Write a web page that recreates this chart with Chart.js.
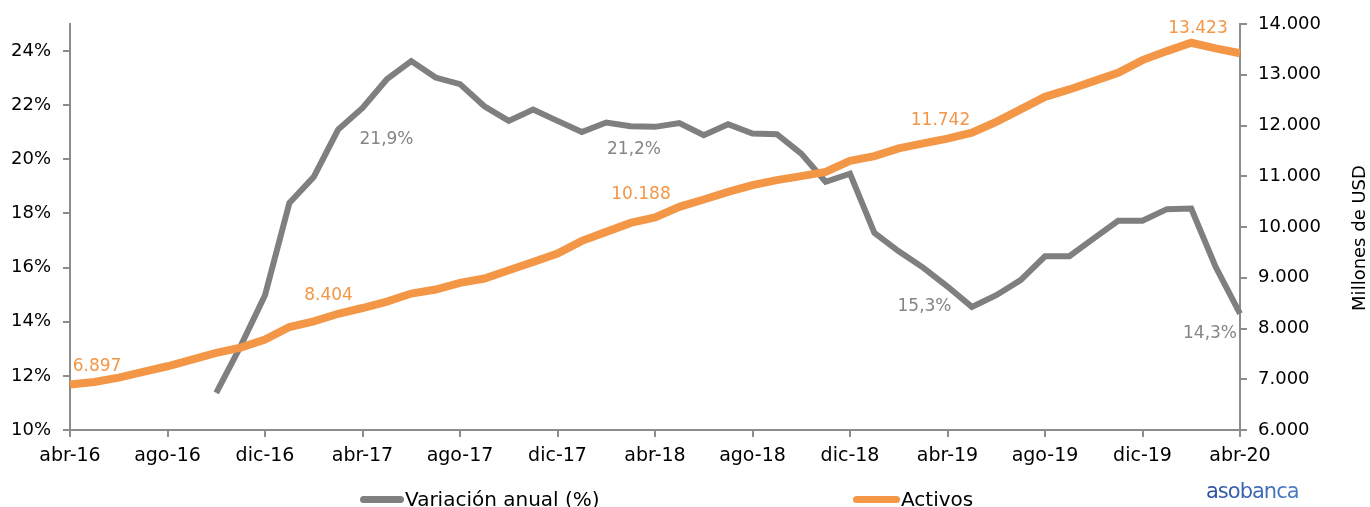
<!DOCTYPE html>
<html><head><meta charset="utf-8">
<script src="https://cdn.jsdelivr.net/npm/chart.js@4.4.1/dist/chart.umd.min.js"></script>
<style>
html,body{margin:0;padding:0;background:#fff;overflow:hidden}
#wrap{position:relative;width:1370px;height:507px;background:#fff}
canvas{position:absolute;left:0;top:0}
.leg{position:absolute;font-family:'DejaVu Sans';font-size:20px;color:#000;white-space:nowrap;line-height:20px}
.sw{position:absolute;height:7px;border-radius:4px}
.logo{position:absolute;left:1206px;top:479px;font-family:'DejaVu Sans';font-size:21px;letter-spacing:-1px;font-weight:normal;color:#3a5dab;background:linear-gradient(90deg,#2e4f9f,#4a7cc6);-webkit-background-clip:text;background-clip:text;-webkit-text-fill-color:transparent;line-height:24px}
</style></head><body>
<div id="wrap">
<canvas id="c" width="1370" height="507"></canvas>
<div class="sw" style="left:360px;top:496px;width:44px;background:#7f7f7f"></div>
<div class="leg" style="left:405px;top:489px">Variación anual (%)</div>
<div class="sw" style="left:853px;top:496px;width:47px;background:#f39646"></div>
<div class="leg" style="left:901px;top:489px">Activos</div>
<div class="logo">asobanca</div>
</div>
<script>
const months = ['abr-16','may-16','jun-16','jul-16','ago-16','sep-16','oct-16','nov-16','dic-16',
 'ene-17','feb-17','mar-17','abr-17','may-17','jun-17','jul-17','ago-17','sep-17','oct-17','nov-17','dic-17',
 'ene-18','feb-18','mar-18','abr-18','may-18','jun-18','jul-18','ago-18','sep-18','oct-18','nov-18','dic-18',
 'ene-19','feb-19','mar-19','abr-19','may-19','jun-19','jul-19','ago-19','sep-19','oct-19','nov-19','dic-19',
 'ene-20','feb-20','mar-20','abr-20'];

const variacionAnual = [null,null,null,null,null,null,11.37,13.1,14.98,
 18.39,19.35,21.10,21.9,22.96,23.63,23.02,22.78,21.96,21.42,21.84,21.42,
 21.01,21.36,21.22,21.2,21.34,20.89,21.3,20.95,20.93,20.21,19.17,19.47,
 17.28,16.6,16.0,15.3,14.55,14.98,15.54,16.42,16.42,17.08,17.73,17.73,
 18.16,18.18,16.03,14.3];

const activos = [6897,6946,7033,7144,7256,7388,7518,7625,7782,
 8030,8140,8290,8404,8530,8689,8768,8900,8985,9149,9312,9478,
 9727,9904,10081,10188,10397,10542,10692,10825,10923,11002,11087,11304,
 11396,11550,11647,11742,11860,12073,12317,12565,12711,12875,13039,13289,
 13466,13630,13520,13423];

const leftTicks = [10,12,14,16,18,20,22,24];
const rightTicks = [6000,7000,8000,9000,10000,11000,12000,13000,14000];

const activosLabelIdx = [0,12,24,36,48];
const variacionLabelIdx = [12,24,36,48];

const GRAY = '#7f7f7f', ORANGE = '#f39646', AXIS = '#8c8c8c';
const fmtThousands = v => String(Math.round(v)).replace(/\B(?=(\d{3})+(?!\d))/g,'.');
const fmtPct = v => v.toFixed(1).replace('.', ',') + '%';

// label offsets (style only)
const activosOffsets = [[27,-18],[-34,-12],[-14,-23],[-7,-18],[-42,-25]];
const variacionOffsets = [[24,32],[-21,23],[-23,20],[-30,20]];

Chart.defaults.font.family = 'DejaVu Sans';
Chart.defaults.font.size = 18;
Chart.defaults.color = '#000';

const labelPlugin = {
  id: 'valueLabels',
  afterDatasetsDraw(chart) {
    const ctx = chart.ctx;
    ctx.save();
    ctx.font = '17px "DejaVu Sans"';
    ctx.textAlign = 'center';
    ctx.textBaseline = 'middle';
    const mA = chart.getDatasetMeta(1), mV = chart.getDatasetMeta(0);
    activosLabelIdx.forEach((i, k) => {
      const p = mA.data[i];
      ctx.fillStyle = ORANGE;
      ctx.fillText(fmtThousands(activos[i]), p.x + activosOffsets[k][0], p.y + activosOffsets[k][1]);
    });
    variacionLabelIdx.forEach((i, k) => {
      const p = mV.data[i];
      ctx.fillStyle = '#858585';
      ctx.fillText(fmtPct(variacionAnual[i]), p.x + variacionOffsets[k][0], p.y + variacionOffsets[k][1]);
    });
    // right axis title
    ctx.fillStyle = '#000';
    ctx.font = '18px "DejaVu Sans"';
    ctx.translate(1360, 238);
    ctx.rotate(-Math.PI/2);
    ctx.fillText('Millones de USD', 0, 0);
    ctx.restore();
  }
};

new Chart(document.getElementById('c'), {
  type: 'line',
  data: {
    labels: months,
    datasets: [
      { label: 'Variación anual (%)', data: variacionAnual, yAxisID: 'y', borderColor: GRAY,
        borderWidth: 6, pointRadius: 0, tension: 0, order: 1, spanGaps: false, borderJoinStyle: 'miter' },
      { label: 'Activos', data: activos, yAxisID: 'y1', borderColor: ORANGE,
        borderWidth: 8, pointRadius: 0, tension: 0, order: 0, borderJoinStyle: 'miter' }
    ]
  },
  options: {
    responsive: false,
    animation: false,
    layout: { padding: { top: 24, left: 0, right: 0, bottom: 0 } },
    plugins: { legend: { display: false }, tooltip: { enabled: false } },
    scales: {
      x: {
        offset: false,
        grid: { display: true, drawOnChartArea: false, drawTicks: true, tickLength: 7, color: AXIS, lineWidth: 2 },
        border: { display: true, color: AXIS, width: 2 },
        ticks: { autoSkip: false, maxRotation: 0, padding: 8, font: { size: 19 },
          callback: function(v, i) { return i % 4 === 0 ? this.getLabelForValue(v) : null; } },
        afterFit: s => { s.height = 77; }
      },
      y: {
        position: 'left', min: 10, max: 25,
        grid: { display: true, drawOnChartArea: false, drawTicks: true, tickLength: 7, color: AXIS, lineWidth: 2 },
        border: { display: true, color: AXIS, width: 2 },
        ticks: { padding: 12, callback: v => v + '%' },
        afterBuildTicks: s => { s.ticks = leftTicks.map(v => ({ value: v })); },
        afterFit: s => { s.width = 70; }
      },
      y1: {
        position: 'right', min: 6000, max: 14000,
        grid: { display: true, drawOnChartArea: false, drawTicks: true, tickLength: 7, color: AXIS, lineWidth: 2 },
        border: { display: true, color: AXIS, width: 2 },
        ticks: { padding: 11, callback: v => fmtThousands(v) },
        afterBuildTicks: s => { s.ticks = rightTicks.map(v => ({ value: v })); },
        afterFit: s => { s.width = 130; }
      }
    }
  },
  plugins: [labelPlugin]
});
</script>
</body></html>
